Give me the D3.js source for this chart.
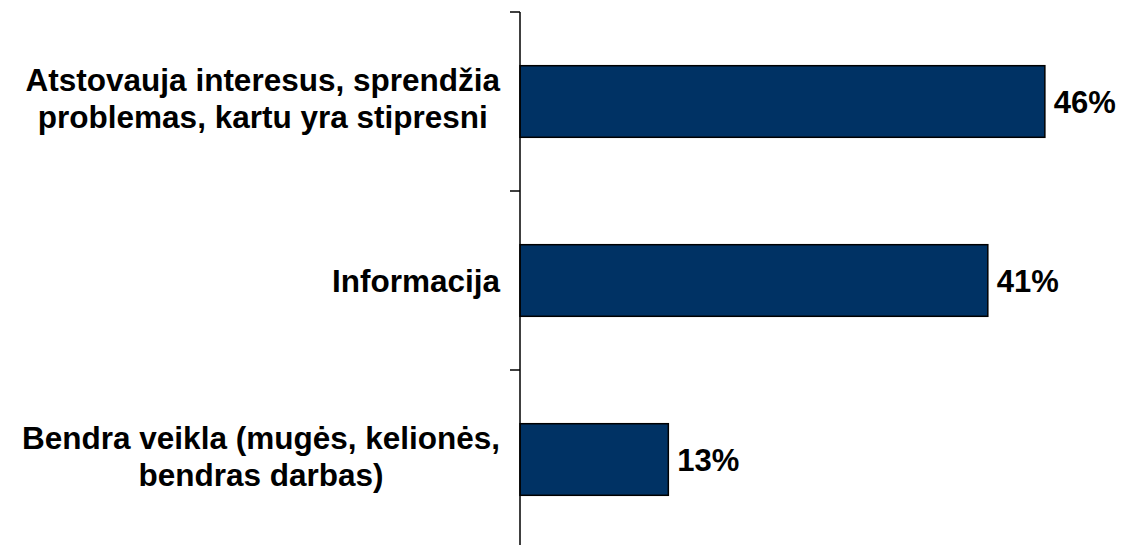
<!DOCTYPE html>
<html>
<head>
<meta charset="utf-8">
<script src="https://cdn.jsdelivr.net/npm/d3@7"></script>
<style>
    body { margin: 0; background: #fff; }
    #chart { width: 1122px; height: 545px; overflow: hidden; }
    text { font-family: "Liberation Sans", Arial, sans-serif; font-weight: bold; fill: #000; }
</style>
</head>
<body>
<div id="chart"></div>
<script>
// categories (each label split into lines) and values in %
let categories = ["Atstovauja", "Informacija", "Bendra veikla"];
let labelLines = [
    ["Atstovauja interesus, sprendžia", "problemas, kartu yra stipresni"],
    ["Informacija"],
    ["Bendra veikla (mugės, kelionės,", "bendras darbas)"]
];
let values = [46, 41, 13];
let valueLabels = ["46%", "41%", "13%"];

let width = 1122, height = 545;
let axisX = 520;

let svg = d3.select("#chart").append("svg")
    .attr("width", width)
    .attr("height", height);

// scales
let x = d3.scaleLinear()
    .domain([0, 50])
    .range([axisX, axisX + 570.5]);

let y = d3.scaleBand()
    .domain(categories)
    .range([12, 549])
    .paddingInner(0.6)
    .paddingOuter(0.3);

// bars
svg.selectAll(".bar")
    .data(values)
    .enter()
    .append("rect")
    .attr("class", "bar")
    .attr("x", x(0))
    .attr("y", (d, i) => y(categories[i]))
    .attr("width", d => x(d) - x(0))
    .attr("height", y.bandwidth())
    .attr("fill", "#003264")
    .attr("stroke", "#000")
    .attr("stroke-width", 1.5);

// axis line + ticks at band boundaries
let boundaries = categories.map(c => y(c) - y.step() * y.paddingInner() / 2);
boundaries.push(y.range()[1]);

svg.append("line")
    .attr("x1", axisX).attr("x2", axisX)
    .attr("y1", boundaries[0]).attr("y2", boundaries[boundaries.length - 1])
    .attr("stroke", "#000")
    .attr("stroke-width", 1.5);

svg.selectAll(".tick")
    .data(boundaries)
    .enter()
    .append("line")
    .attr("class", "tick")
    .attr("x1", axisX - 10).attr("x2", axisX)
    .attr("y1", d => d).attr("y2", d => d)
    .attr("stroke", "#000")
    .attr("stroke-width", 1.5);

// value labels
svg.selectAll(".value")
    .data(values)
    .enter()
    .append("text")
    .attr("class", "value")
    .attr("x", d => x(d) + 9)
    .attr("y", (d, i) => y(categories[i]) + y.bandwidth() / 2 + 11.5)
    .attr("font-size", 31)
    .text((d, i) => valueLabels[i]);

// category labels: block right-aligned to axis, lines centred inside
labelLines.forEach((lines, i) => {
    let cy = y(categories[i]) + y.bandwidth() / 2;
    let g = svg.append("g");
    let texts = lines.map((l, j) => g.append("text")
        .attr("font-size", 31.5)
        .attr("text-anchor", "middle")
        .attr("y", lines.length === 1 ? cy + 11.5 : cy - 11 + j * 37)
        .text(l));
    let maxW = d3.max(texts, t => t.node().getComputedTextLength());
    let right = axisX - 20;
    texts.forEach(t => t.attr("x", right - maxW / 2));
});
</script>
</body>
</html>
